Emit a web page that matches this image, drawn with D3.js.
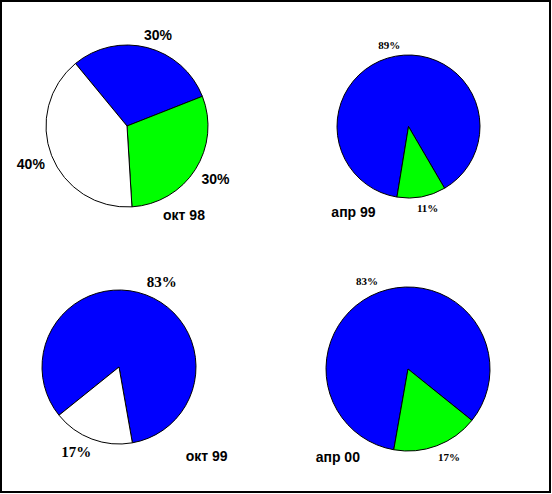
<!DOCTYPE html>
<html><head><meta charset="utf-8">
<script src="https://cdn.jsdelivr.net/npm/d3@7"></script>
<style>html,body{margin:0;padding:0;background:#fff;}</style>
</head><body>
<svg id="c" width="552" height="494"></svg>
<script>
// ---- data ----
const periods = ["окт 98", "апр 99", "окт 99", "апр 00"];
const seriesNames = ["blue", "green", "white"];
const blueValues  = [30, 89, 83, 83];
const greenValues = [30, 11, 0, 17];
const whiteValues = [40, 0, 17, 0];

// ---- layout / style ----
const colors = {blue: "#0000ff", green: "#00ff00", white: "#ffffff"};
const layout = [
  {cx: 127,   cy: 126,   r: 81,   start: -39.5, font: "bold 14px 'Liberation Sans', Arial, sans-serif",      lx: 184,   ly: 215},
  {cx: 408.5, cy: 126.5, r: 71.5, start: -170.7, font: "bold 11px 'Liberation Serif', 'Times New Roman', serif", lx: 353.5, ly: 212},
  {cx: 119,   cy: 367,   r: 77,   start: -128.8, font: "bold 15px 'Liberation Serif', 'Times New Roman', serif", lx: 206.7, ly: 455.5},
  {cx: 408,   cy: 369,   r: 82,   start: -170,   font: "bold 11px 'Liberation Serif', 'Times New Roman', serif", lx: 337.8, ly: 457}
];
const catFont = "bold 14px 'Liberation Sans', Arial, sans-serif";

const svg = d3.select("#c");
svg.append("rect").attr("x", 1).attr("y", 1).attr("width", 549).attr("height", 491)
  .attr("fill", "#fff").attr("stroke", "#000").attr("stroke-width", 2);

const toRad = d => d * Math.PI / 180;
const clamp = v => Math.max(-1, Math.min(1, v));
const color = d3.scaleOrdinal().domain(seriesNames).range(seriesNames.map(s => colors[s]));

periods.forEach((p, i) => {
  const L = layout[i];
  const vals = [blueValues[i], greenValues[i], whiteValues[i]];
  const rows = seriesNames.map((s, k) => ({name: s, value: vals[k]}));
  const total = d3.sum(vals);
  const pie = d3.pie().sort(null).value(d => d.value)
    .startAngle(toRad(L.start)).endAngle(toRad(L.start) + 2 * Math.PI);
  const arcs = pie(rows).filter(a => a.data.value > 0);
  const arc = d3.arc().innerRadius(0).outerRadius(L.r);
  const g = svg.append("g").attr("transform", `translate(${L.cx},${L.cy})`);
  g.selectAll("path").data(arcs).join("path")
    .attr("d", arc)
    .attr("fill", d => color(d.data.name))
    .attr("stroke", "#000").attr("stroke-width", 1).attr("stroke-linejoin", "round");

  // percentage labels outside slices
  const gap = 7;
  arcs.forEach(a => {
    const mid = (a.startAngle + a.endAngle) / 2;
    const s = Math.sin(mid), c = -Math.cos(mid);
    const px = (L.r + gap) * s, py = (L.r + gap) * c;
    const t = g.append("text")
      .attr("text-anchor", "middle").attr("dominant-baseline", "central")
      .style("font", L.font).attr("fill", "#000")
      .text(Math.round(a.data.value / total * 100) + "%");
    const bb = t.node().getBBox();
    const ox = clamp(s * 2.5) * bb.width / 2;
    const oy = clamp(c * 2.5) * bb.height / 2 * 0.75;
    t.attr("x", px + ox).attr("y", py + oy);
  });

  svg.append("text").attr("x", L.lx).attr("y", L.ly)
    .attr("text-anchor", "middle").attr("dominant-baseline", "central")
    .style("font", catFont).attr("fill", "#000").text(p);
});
</script>
</body></html>
